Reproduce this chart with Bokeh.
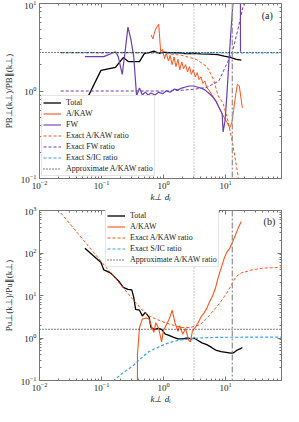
from bokeh.plotting import figure
from bokeh.models import LogAxis, Legend, LegendItem, Span, Label, FixedTicker, LogTickFormatter
from bokeh.layouts import column
from bokeh.embed import file_html
from bokeh.resources import INLINE

FONT = "Liberation Serif"
ORANGE = "#ff5319"
PURPLE = "#6b3fb5"
BLUE = "#3d9ff2"
GRAY = "#777777"

# ---------------- panel (a): magnetic ratio ----------------
a_total_k = [0.04, 0.054, 0.098, 0.168, 0.224, 0.27, 0.41, 0.49, 0.59, 0.7, 0.85, 1.0, 1.3,
             1.7, 2.2, 3.0, 4.0, 5.5, 7.5, 9.5, 12, 15, 18]
a_total_r = [0.49, 0.73, 1.72, 1.86, 2.41, 2.17, 2.17, 2.67, 2.74, 2.85, 2.7, 2.78, 2.72,
             2.75, 2.68, 2.7, 2.66, 2.64, 2.6, 2.5, 2.42, 2.3, 2.25]

a_akaw_k = [0.63, 0.675, 0.725, 0.78, 0.837, 0.866, 0.9, 0.965, 1.04, 1.11, 1.2, 1.28, 1.38,
            1.48, 1.59, 1.71, 1.83, 1.97, 2.11, 2.27, 2.44, 2.62, 2.81, 3.02, 3.25, 3.49,
            3.74, 4.02, 4.32, 4.64, 4.98, 5.54, 6.18, 6.87, 7.64, 8.5, 9.47, 10.5, 11.7,
            12.6, 13.5, 14.5, 15.6, 16.7, 18.0, 18.7]
a_akaw_r = [4.37, 3.94, 4.84, 5.37, 5.8, 4.15, 2.81, 3.0, 2.35, 2.7, 2.2, 2.55, 2.0,
            2.45, 1.9, 2.3, 1.75, 2.15, 1.8, 2.0, 1.65, 1.9, 1.55, 1.75, 1.45, 1.62,
            1.35, 1.45, 1.22, 1.3, 1.1, 1.0, 0.88, 0.79, 0.68, 0.58, 0.5, 0.44, 0.38,
            0.43, 0.6, 0.88, 1.2, 1.14, 0.77, 0.64]

a_fw_k = [0.054, 0.109, 0.168, 0.186, 0.216, 0.24, 0.267, 0.297, 0.331, 0.368, 0.41, 0.456,
          0.508, 0.565, 0.63, 0.725, 0.837, 0.965, 1.11, 1.28, 1.48, 1.71, 1.97, 2.27,
          2.62, 3.02, 3.49, 4.02, 4.64, 5.35, 6.18, 7.12, 7.92, 8.82, 9.15, 9.83, 10.5,
          11.3, 12.2, 13.1, 14.0, 16.2, 17.4, 17.45]
a_fw_r = [2.47, 2.47, 2.81, 2.47, 1.55, 2.81, 5.37, 3.94, 2.47, 0.88, 1.08, 0.9,
          0.97, 0.9, 0.95, 0.9, 0.97, 0.93, 1.0, 0.97, 1.05, 1.03, 1.08, 1.11,
          1.14, 1.14, 1.11, 1.08, 1.03, 0.95, 0.86, 0.75, 0.64, 0.55, 0.34, 0.46, 0.88,
          2.06, 4.7, 9.5, 13.0, 13.0, 13.0, 2.8]

a_exact_akaw_k = [0.022, 0.3, 1.0, 2.0, 3.4, 5.0, 6.4, 7.6, 9.1, 11.0, 13.2, 16.2, 20.0]
a_exact_akaw_r = [2.75, 2.75, 2.72, 2.55, 2.29, 1.9, 1.36, 0.88, 0.73, 0.45, 0.24, 0.10, 0.04]

a_exact_fw_k = [0.022, 1.0, 2.0, 3.2, 5.0, 7.8, 10.0, 12.9, 15.8, 19.0, 21.0]
a_exact_fw_r = [1.0, 1.0, 1.02, 1.05, 1.1, 1.3, 1.9, 2.8, 5.0, 9.0, 11.0]

a_exact_sic_k = [0.022, 80.0]
a_exact_sic_r = [2.72, 2.72]

a_approx_k = [0.01, 80.0]
a_approx_r = [2.75, 2.75]

# ---------------- panel (b): velocity ratio ----------------
b_total_k = [0.054, 0.074, 0.098, 0.109, 0.14, 0.168, 0.194, 0.224, 0.267, 0.308, 0.331,
             0.355, 0.41, 0.456, 0.508, 0.585, 0.628, 0.7, 0.837, 0.93, 1.07, 1.2, 1.43,
             1.71, 2.04, 2.44, 2.82, 3.13, 3.49, 4.17, 4.98, 5.96, 7.12, 8.5, 10.2, 12.2,
             13.5, 15.1, 17.4, 18.7]
b_total_r = [129, 86, 60, 40, 34, 26, 21, 15.5, 14, 13.5, 9.0,
             4.7, 4.5, 3.3, 4.0, 3.1, 1.77, 1.6, 1.68, 1.6, 1.23, 1.17, 1.05,
             0.95, 0.95, 1.0, 0.95, 1.0, 0.9, 0.77, 0.7, 0.6, 0.51, 0.48, 0.46, 0.44,
             0.45, 0.51, 0.56, 0.6]

b_akaw_k = [0.38, 0.38, 0.41, 0.456, 0.526, 0.585, 0.65, 0.7, 0.75, 0.837, 0.93, 1.0, 1.11,
            1.24, 1.38, 1.53, 1.71, 1.83, 2.04, 2.27, 2.53, 2.72, 2.92, 3.25, 3.62, 4.02,
            4.48, 4.98, 5.54, 6.18, 6.87, 7.64, 8.5, 9.47, 10.5, 11.7, 13.1, 14.5, 16.2, 18.0]
b_akaw_r = [0.01, 0.41, 1.77, 2.81, 2.96, 2.81, 1.77, 1.36, 2.29, 1.68, 0.81, 1.51, 2.06,
            2.81, 4.5, 2.29, 1.44, 1.96, 1.23, 1.68, 0.9, 0.81, 1.44, 1.77, 2.29, 3.12,
            3.84, 4.97, 7.1, 9.7, 14.8, 27, 44, 73, 105, 129, 186, 267, 406, 550]

b_exact_akaw_k = [0.022, 0.04, 0.07, 0.12, 0.2, 0.3, 0.45, 0.585, 0.8, 1.07, 1.9, 2.72,
                  3.9, 5.5, 7.9, 10.2, 12.0, 14.5, 18.0, 26.6, 40.0, 80.0]
b_exact_akaw_r = [875, 310, 115, 45, 18.6, 9.1, 4.6, 3.3, 2.7, 2.29, 1.77, 1.77,
                  2.06, 3.4, 6.4, 10.8, 16.0, 27, 34, 40, 44, 46]

b_exact_sic_k = [0.12, 0.157, 0.22, 0.32, 0.45, 0.585, 0.8, 1.07, 1.5, 1.9, 3.1, 5.0, 10.0, 80.0]
b_exact_sic_r = [0.065, 0.1, 0.15, 0.22, 0.35, 0.48, 0.6, 0.72, 0.84, 0.9, 0.98, 1.02, 1.04, 1.05]

b_approx_k = [0.01, 80.0]
b_approx_r = [1.6, 1.6]

# vertical reference lines
k_dotted = 3.1
k_dashdot = 12.9

X_RANGE = (0.01, 80)
DOT = "1 2"
DASH = "3 2"


def decade_ticker(e0, e1):
    majors = [10.0 ** e for e in range(e0, e1 + 1)]
    minors = [m * 10.0 ** e for e in range(e0 - 1, e1 + 1) for m in range(2, 10)]
    return FixedTicker(ticks=majors, minor_ticks=minors)


def make_fig(height, y_range, ye, ylabel, top, bottom):
    p = figure(width=289, height=height, x_axis_type="log", y_axis_type="log",
               x_range=X_RANGE, y_range=y_range, output_backend="svg",
               toolbar_location=None, min_border_left=32, min_border_right=8,
               min_border_top=top, min_border_bottom=bottom)
    p.add_layout(LogAxis(major_label_text_font_size="1px", major_label_text_alpha=0,
                         major_label_standoff=0), "right")
    p.add_layout(LogAxis(major_label_text_font_size="1px", major_label_text_alpha=0,
                         major_label_standoff=0), "above")
    p.grid.visible = False
    p.outline_line_color = GRAY
    xt = decade_ticker(-2, 1)
    yt = decade_ticker(ye[0], ye[1])
    for ax in (p.below[0], p.above[0]):
        ax.ticker = xt
        ax.formatter = LogTickFormatter()
    for ax in (p.left[0], p.right[0]):
        ax.ticker = yt
        ax.formatter = LogTickFormatter()
    for ax in p.axis:
        ax.major_tick_in = 4
        ax.major_tick_out = 0
        ax.minor_tick_in = 2
        ax.minor_tick_out = 0
        ax.axis_line_color = GRAY
        ax.major_tick_line_color = GRAY
        ax.minor_tick_line_color = GRAY
    for ax in (p.below[0], p.left[0]):
        ax.major_label_text_font = FONT
        ax.major_label_text_font_size = "9px"
        ax.major_label_text_color = "#222222"
        ax.major_label_standoff = 3
        ax.axis_label_text_font = FONT
        ax.axis_label_text_font_size = "9px"
        ax.axis_label_text_font_style = "normal"
        ax.axis_label_text_color = "#222222"
        ax.axis_label_standoff = 4
    p.below[0].axis_label = "k⊥ dᵢ"
    p.below[0].axis_label_text_font_style = "italic"
    p.below[0].major_label_standoff = 2
    p.below[0].axis_label_standoff = 0
    p.left[0].axis_label = ylabel
    p.add_layout(Span(location=k_dotted, dimension="height", line_color="#888888",
                      line_dash=DOT, line_width=0.9))
    p.add_layout(Span(location=k_dashdot, dimension="height", line_color="#9a9a9a",
                      line_dash="6 2 2 2", line_width=1.4))
    return p


def legend_style(lg):
    lg.label_text_font = FONT
    lg.label_text_font_size = "8px"
    lg.label_text_color = "#222222"
    lg.label_height = 11
    lg.glyph_height = 11
    lg.glyph_width = 18
    lg.label_standoff = 5
    lg.spacing = 0
    lg.padding = 1
    lg.margin = 2
    lg.border_line_color = "#cccccc"
    lg.border_line_width = 1
    lg.background_fill_alpha = 1.0


# ----- panel a -----
pa = make_fig(204, (0.1, 10), (-1, 1), "PB⊥(k⊥)/PB∥(k⊥)", 3, 20)
r_tot = pa.line(a_total_k, a_total_r, line_color="black", line_width=1.3)
r_akaw = pa.line(a_akaw_k, a_akaw_r, line_color=ORANGE, line_width=1.0)
r_fw = pa.line(a_fw_k, a_fw_r, line_color=PURPLE, line_width=1.2)
r_eak = pa.line(a_exact_akaw_k, a_exact_akaw_r, line_color=ORANGE, line_dash=DASH, line_width=1.0)
r_efw = pa.line(a_exact_fw_k, a_exact_fw_r, line_color=PURPLE, line_dash=DASH, line_width=1.0)
r_esic = pa.line(a_exact_sic_k, a_exact_sic_r, line_color=BLUE, line_dash=DASH, line_width=1.2)
r_app = pa.line(a_approx_k, a_approx_r, line_color="black", line_dash=DOT, line_width=1.1)
leg_akaw = pa.line([1e-3, 2e-3], [1e-3, 1e-3], line_color=ORANGE, line_width=2, line_alpha=0.55)
leg_fw = pa.line([1e-3, 2e-3], [1e-3, 1e-3], line_color=PURPLE, line_width=2, line_alpha=0.55)
lga = Legend(items=[LegendItem(label="Total", renderers=[r_tot]),
                    LegendItem(label="A/KAW", renderers=[leg_akaw]),
                    LegendItem(label="FW", renderers=[leg_fw]),
                    LegendItem(label="Exact A/KAW ratio", renderers=[r_eak]),
                    LegendItem(label="Exact FW ratio", renderers=[r_efw]),
                    LegendItem(label="Exact S/IC ratio", renderers=[r_esic]),
                    LegendItem(label="Approximate A/KAW ratio", renderers=[r_app])],
             location="bottom_left")
legend_style(lga)
pa.add_layout(lga)
pa.add_layout(Label(x=47, y=7.3, text="(a)", text_font=FONT, text_font_size="10px",
                    text_align="center", text_baseline="middle", text_color="#222222"))

# ----- panel b -----
pb = make_fig(202, (0.1, 1000), (-1, 3), "Pu⊥(k⊥)/Pu∥(k⊥)", 6, 20)
s_tot = pb.line(b_total_k, b_total_r, line_color="black", line_width=1.3)
s_akaw = pb.line(b_akaw_k, b_akaw_r, line_color=ORANGE, line_width=1.1)
s_eak = pb.line(b_exact_akaw_k, b_exact_akaw_r, line_color=ORANGE, line_dash=DASH, line_width=1.0)
s_esic = pb.line(b_exact_sic_k, b_exact_sic_r, line_color=BLUE, line_dash=DASH, line_width=1.2)
s_app = pb.line(b_approx_k, b_approx_r, line_color="black", line_dash=DOT, line_width=1.1)
lgb = Legend(items=[LegendItem(label="Total", renderers=[s_tot]),
                    LegendItem(label="A/KAW", renderers=[s_akaw]),
                    LegendItem(label="Exact A/KAW ratio", renderers=[s_eak]),
                    LegendItem(label="Exact S/IC ratio", renderers=[s_esic]),
                    LegendItem(label="Approximate A/KAW ratio", renderers=[s_app])],
             location=(66, 113))
legend_style(lgb)
pb.add_layout(lgb)
pb.add_layout(Label(x=51, y=550, text="(b)", text_font=FONT, text_font_size="10px",
                    text_align="center", text_baseline="middle", text_color="#222222"))

layout = column(pa, pb, spacing=0)
open("out.html", "w").write(file_html(layout, INLINE))
